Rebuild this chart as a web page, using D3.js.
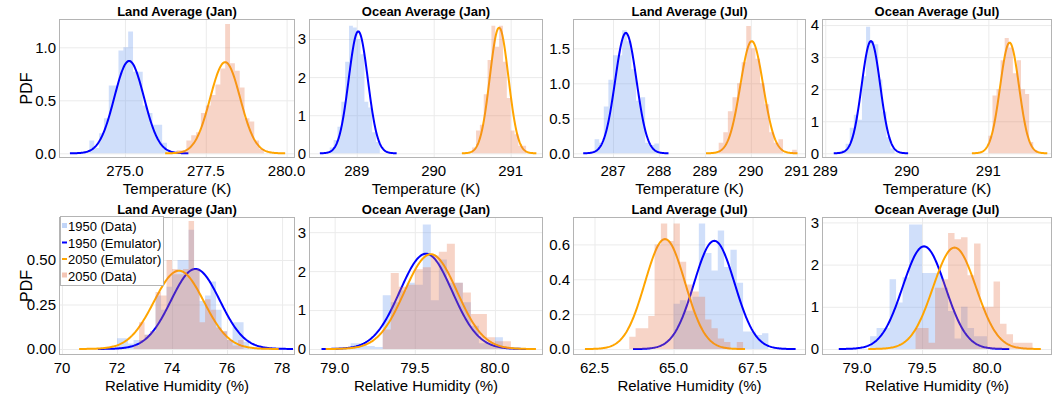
<!DOCTYPE html>
<html>
<head>
<meta charset="utf-8">
<script src="https://cdn.jsdelivr.net/npm/d3@7"></script>
<style>
  body { margin: 0; background: #fff; }
  text { font-family: "Liberation Sans", Arial, sans-serif; fill: #000; }
</style>
</head>
<body>
<svg id="chart" width="1056" height="399"></svg>
<script>
// ---- data ----
const titles = ["Land Average (Jan)", "Ocean Average (Jan)", "Land Average (Jul)", "Ocean Average (Jul)",
                "Land Average (Jan)", "Ocean Average (Jan)", "Land Average (Jul)", "Ocean Average (Jul)"];
const xTitles = ["Temperature (K)", "Temperature (K)", "Temperature (K)", "Temperature (K)",
                 "Relative Humidity (%)", "Relative Humidity (%)", "Relative Humidity (%)", "Relative Humidity (%)"];
const seriesNames = ["1950 (Data)", "1950 (Emulator)", "2050 (Emulator)", "2050 (Data)"];

const xDomains = [[272.96, 280.26], [288.38, 291.42], [286.13, 291.2], [288.96, 291.78],
                  [69.89, 78.47], [78.84, 80.3], [61.82, 69.19], [78.73, 80.5]];
const yDomains = [[-0.044, 1.267], [-0.123, 3.525], [-0.067, 1.919], [-0.147, 4.19],
                  [-0.034, 0.742], [-0.154, 3.39], [-0.034, 0.757], [-0.142, 3.128]];
const xTicks = [[275, 277.5, 280], [289, 290, 291], [287, 288, 289, 290, 291], [289, 290, 291],
                [70, 72, 74, 76, 78], [79, 79.5, 80], [62.5, 65, 67.5], [79, 79.5, 80]];
const xTickFormats = [".1f", "d", "d", "d", "d", ".1f", ".1f", ".1f"];
const yTicks = [[0, 0.5, 1], [0, 1, 2, 3], [0, 0.5, 1, 1.5], [0, 1, 2, 3, 4],
                [0, 0.25, 0.5], [0, 1, 2, 3], [0, 0.2, 0.4, 0.6], [0, 1, 2, 3]];
const yTickFormats = [".1f", "d", ".1f", "d", ".2f", "d", ".1f", "d"];

// emulator (gaussian) parameters
const emu1950Mean = [275.13, 289.02, 287.28, 289.56, 74.85, 79.57, 66.29, 79.515];
const emu1950Sd   = [0.458, 0.1247, 0.232, 0.114, 0.887, 0.163, 0.643, 0.164];
const emu2050Mean = [278.1, 290.85, 290.02, 291.26, 74.25, 79.60, 64.73, 79.75];
const emu2050Sd   = [0.464, 0.121, 0.249, 0.1156, 0.907, 0.164, 0.633, 0.166];

// data histograms (normalised density), first bin edge + bin width + heights
const hist1950Start = [273.9, 288.65, 286.6, 289.15, 72.0, 79.10, 65.0, 79.10];
const hist1950Width = [0.15, 0.05, 0.1, 0.05, 0.2, 0.05, 0.2, 0.05];
const hist1950Heights = [
  [0.12, 0.05, 0.19, 0.33, 0.64, 0.64, 0.97, 1.0, 1.15, 0.77, 0.77, 0.45, 0.38, 0.27, 0.27, 0.1],
  [0.15, 0.35, 0.7, 1.35, 2.4, 3.35, 3.3, 3.0, 2.6, 1.35, 1.2, 0.55, 0.3],
  [0.2, 0.15, 0.67, 1.05, 1.4, 1.4, 1.76, 1.6, 1.2, 0.75, 0.8, 0.15, 0.12, 0.14],
  [0.05, 0.1, 0.3, 0.8, 1.2, 1.05, 2.4, 3.95, 3.5, 3.4, 2.3, 1.3, 0.5, 0.15],
  [0.06, 0.06, 0.03, 0.05, 0.05, 0.08, 0.1, 0.3, 0.22, 0.35, 0.42, 0.5, 0.5, 0.67, 0.45, 0.27, 0.3, 0.38, 0.22, 0.1, 0.05, 0.15, 0.15, 0.04],
  [0.15, 0.15, 0.08, 0.05, 1.38, 1.2, 1.5, 1.7, 1.65, 3.2, 1.25, 2.3, 1.7, 1.7, 1.2, 0.6, 0.15, 0.15, 0.3],
  [0.26, 0.28, 0.22, 0.3, 0.72, 0.55, 0.45, 0.68, 0.47, 0.57, 0.38, 0.1, 0.1, 0.08, 0.09],
  [0.3, 0.5, 0.5, 1.65, 1.1, 1.7, 2.95, 2.95, 1.8, 1.8, 1.8, 1.45, 0.9, 0.25, 1.0, 0.5, 0.3, 0.3]
];
const hist2050Start = [276.6, 290.5, 289.3, 291.0, 72.0, 79.30, 63.6, 79.45];
const hist2050Width = [0.15, 0.05, 0.1, 0.05, 0.2, 0.05, 0.2, 0.05];
const hist2050Heights = [
  [0.03, 0.03, 0.12, 0.17, 0.2, 0.38, 0.45, 0.55, 0.65, 0.8, 1.22, 0.85, 0.78, 0.62, 0.33, 0.3, 0.12, 0.04],
  [0.15, 0.6, 0.75, 1.55, 2.45, 3.35, 2.8, 3.35, 2.4, 1.45, 0.6, 0.5, 0.2, 0.2],
  [0.15, 0.3, 0.6, 0.8, 1.0, 1.3, 1.82, 1.5, 1.35, 1.0, 0.7, 0.3, 0.15, 0.2, 0, 0, 0.05],
  [0.55, 1.8, 2.0, 2.9, 3.6, 3.3, 2.5, 2.9, 2.0, 1.85, 0.35, 0.1],
  [0, 0, 0, 0.02, 0.15, 0.08, 0.1, 0.32, 0.3, 0.5, 0.45, 0.42, 0.45, 0.72, 0.45, 0.15, 0.28, 0.22, 0.12, 0.1, 0.05, 0.02, 0.05],
  [0.5, 1.95, 1.6, 1.65, 2.05, 2.1, 2.4, 2.5, 2.7, 1.7, 1.45, 0.9, 0.9, 0.3, 0.2, 0.2],
  [0.07, 0.12, 0.12, 0.19, 0.6, 0.72, 0.62, 0.72, 0.5, 0.37, 0.33, 0.3, 0.17, 0.12, 0.06, 0.04, 0, 0.04],
  [0.5, 0.5, 0.15, 1.45, 1.65, 2.75, 2.6, 2.65, 1.75, 2.5, 1.0, 1.0, 1.6, 0.6, 0.35, 0.15, 0.15, 0.15]
];

// ---- layout ----
const cols = [[59, 295], [309, 543], [573, 806], [822, 1052]];
const rows = [[19, 158], [217, 355]];
const blueFill = "#6495ed", orangeFill = "#e36f47", fillAlpha = 0.3;
const blueLine = "#0000ff", orangeLine = "#ffa500";
const frameColor = "#b4b4b4", gridColor = "#ebebeb";

const svg = d3.select("#chart");

function gaussPoints(m, s) {
    // evaluate the emulator's normal density over mean +/- 4 sd
    return d3.range(0, 201).map(k => {
        const x = m - 4 * s + k * 8 * s / 200;
        const z = (x - m) / s;
        return {x: x, y: Math.exp(-0.5 * z * z) / (s * Math.sqrt(2 * Math.PI))};
    });
}

function histPoints(start, w, hs) {
    const pts = hs.map((h, k) => ({x: start + k * w, h: h}));
    pts.push({x: start + hs.length * w, h: hs[hs.length - 1]});
    return pts;
}

titles.forEach((title, i) => {
    const [x0, x1] = cols[i % 4];
    const [y0, y1] = rows[Math.floor(i / 4)];
    const x = d3.scaleLinear().domain(xDomains[i]).range([x0, x1]);
    const y = d3.scaleLinear().domain(yDomains[i]).range([y1, y0]);
    const g = svg.append("g");

    g.append("clipPath").attr("id", "clip" + i)
        .append("rect").attr("x", x0).attr("y", y0).attr("width", x1 - x0).attr("height", y1 - y0);

    // grid
    g.append("g").attr("transform", `translate(0,${y1})`)
        .call(d3.axisBottom(x).tickValues(xTicks[i]).tickSize(-(y1 - y0)).tickFormat(""))
        .call(a => a.select(".domain").remove())
        .call(a => a.selectAll("line").attr("stroke", gridColor));
    g.append("g").attr("transform", `translate(${x0},0)`)
        .call(d3.axisLeft(y).tickValues(yTicks[i]).tickSize(-(x1 - x0)).tickFormat(""))
        .call(a => a.select(".domain").remove())
        .call(a => a.selectAll("line").attr("stroke", gridColor));

    const plot = g.append("g").attr("clip-path", `url(#clip${i})`);
    const area = d3.area().curve(d3.curveStepAfter)
        .x(d => x(d.x)).y0(y(0)).y1(d => y(d.h));
    const line = d3.line().x(d => x(d.x)).y(d => y(d.y));

    plot.append("path")
        .datum(histPoints(hist1950Start[i], hist1950Width[i], hist1950Heights[i]))
        .attr("d", area).attr("fill", blueFill).attr("fill-opacity", fillAlpha);
    plot.append("path")
        .datum(gaussPoints(emu1950Mean[i], emu1950Sd[i]))
        .attr("d", line).attr("fill", "none").attr("stroke", blueLine).attr("stroke-width", 2);
    plot.append("path")
        .datum(gaussPoints(emu2050Mean[i], emu2050Sd[i]))
        .attr("d", line).attr("fill", "none").attr("stroke", orangeLine).attr("stroke-width", 2);
    plot.append("path")
        .datum(histPoints(hist2050Start[i], hist2050Width[i], hist2050Heights[i]))
        .attr("d", area).attr("fill", orangeFill).attr("fill-opacity", fillAlpha);

    // frame
    g.append("rect").attr("x", x0 + 0.5).attr("y", y0 + 0.5)
        .attr("width", x1 - x0 - 1).attr("height", y1 - y0 - 1)
        .attr("fill", "none").attr("stroke", frameColor);

    // tick labels
    const fx = d3.format(xTickFormats[i]), fy = d3.format(yTickFormats[i]);
    g.selectAll(".xt").data(xTicks[i]).enter().append("text")
        .attr("x", d => x(d)).attr("y", y1 + 18)
        .attr("text-anchor", "middle").style("font-size", "15px")
        .text(d => fx(d));
    g.selectAll(".yt").data(yTicks[i]).enter().append("text")
        .attr("x", x0 - 3).attr("y", d => y(d)).attr("dy", "0.36em")
        .attr("text-anchor", "end").style("font-size", "15px")
        .text(d => fy(d));

    g.append("text").attr("x", (x0 + x1) / 2).attr("y", y0 - 3)
        .attr("text-anchor", "middle").style("font-size", "13px").style("font-weight", "bold")
        .text(title);
    g.append("text").attr("x", (x0 + x1) / 2).attr("y", y1 + 36)
        .attr("text-anchor", "middle").style("font-size", "15px")
        .text(xTitles[i]);

    if (i % 4 === 0) {
        g.append("text")
            .attr("transform", `translate(32,${(y0 + y1) / 2}) rotate(-90)`)
            .attr("text-anchor", "middle").style("font-size", "16px")
            .text("PDF");
    }
});

// legend in the lower-left panel
const legend = svg.append("g").attr("transform", "translate(60,216)");
legend.append("rect").attr("x", 0.5).attr("y", 0.5).attr("width", 103).attr("height", 69)
    .attr("fill", "#fff").attr("stroke", frameColor);
seriesNames.forEach((name, k) => {
    const by = 15 + k * 16.5;
    if (k === 0 || k === 3) {
        legend.append("rect").attr("x", 2).attr("y", by - 8).attr("width", 5).attr("height", 5)
            .attr("fill", k === 0 ? blueFill : orangeFill).attr("fill-opacity", fillAlpha + 0.1);
    } else {
        legend.append("line").attr("x1", 2).attr("x2", 7).attr("y1", by - 5).attr("y2", by - 5)
            .attr("stroke", k === 1 ? blueLine : orangeLine).attr("stroke-width", 2);
    }
    legend.append("text").attr("x", 8).attr("y", by).style("font-size", "13px").text(name);
});
</script>
</body>
</html>
